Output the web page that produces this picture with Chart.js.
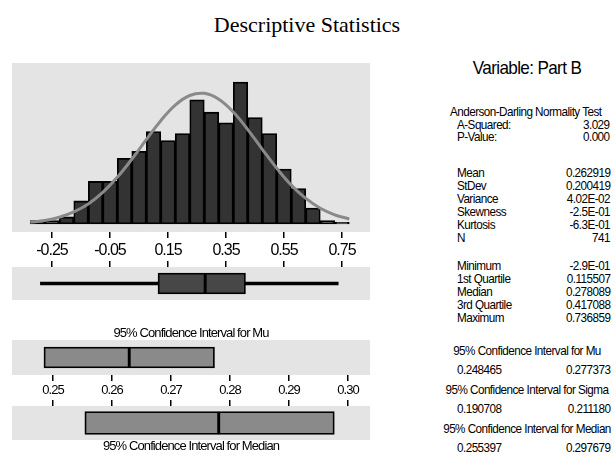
<!DOCTYPE html>
<html>
<head>
<meta charset="utf-8">
<script src="https://cdn.jsdelivr.net/npm/chart.js@4.4.1/dist/chart.umd.min.js"></script>
<style>
  body { margin: 0; background: #fff; }
  #wrap { position: relative; width: 614px; height: 460px; overflow: hidden; font-family: 'Liberation Sans', Arial, sans-serif; }
  canvas { position: absolute; left: 0; }
  .t { position: absolute; white-space: nowrap; line-height: 1; color: #000; font-size: 13px; letter-spacing: -0.6px; }
</style>
</head>
<body>
<div id="wrap">
  <canvas id="hist" width="380" height="203" style="top:55px"></canvas>
  <canvas id="box" width="380" height="41" style="top:259px"></canvas>
  <canvas id="mu" width="380" height="70" style="top:327px"></canvas>
  <canvas id="med" width="380" height="55" style="top:398px"></canvas>
</div>
<script>
// histogram bins (bin width 0.05)
const binCenters = [-0.30, -0.25, -0.20, -0.15, -0.10, -0.05, 0.00, 0.05, 0.10, 0.15, 0.20,
                    0.25, 0.30, 0.35, 0.40, 0.45, 0.50, 0.55, 0.60, 0.65, 0.70, 0.75];
const binCounts = [2, 2, 4, 13, 24, 24, 37, 41, 52, 47, 51, 70, 63, 57, 80, 60, 51, 31, 20, 9, 2, 1];

// fitted normal curve
const curveX = [-0.325, -0.275, -0.225, -0.175, -0.125, -0.075, -0.025, 0.025, 0.075, 0.125, 0.175, 0.225,
                0.275, 0.325, 0.375, 0.425, 0.475, 0.525, 0.575, 0.625, 0.675, 0.725, 0.775];
const curveY = [1.0, 2.0, 3.8, 6.8, 11.3, 17.8, 26.3, 36.5, 47.5, 58.2, 67.0, 72.4,
                73.6, 70.3, 63.1, 53.2, 42.1, 31.4, 21.9, 14.4, 8.9, 5.2, 2.8];

const histTicks = [-0.25, -0.05, 0.15, 0.35, 0.55, 0.75];
const ciTicks = [0.25, 0.26, 0.27, 0.28, 0.29, 0.30];

// min, q1, median, q3, max
const boxStats = [-0.29, 0.115507, 0.278089, 0.417088, 0.736859];
// lower, mean, upper
const muCI = [0.248465, 0.262919, 0.277373];
// lower, median, upper
const medianCI = [0.255397, 0.278089, 0.297679];

const statRows = [
  ['A-Squared:', '3.029', 124], ['P-Value:', '0.000', 136],
  ['Mean', '0.262919', 172], ['StDev', '0.200419', 185], ['Variance', '4.02E-02', 198],
  ['Skewness', '-2.5E-01', 211], ['Kurtosis', '-6.3E-01', 224], ['N', '741', 237],
  ['Minimum', '-2.9E-01', 265], ['1st Quartile', '0.115507', 278], ['Median', '0.278089', 291],
  ['3rd Quartile', '0.417088', 304], ['Maximum', '0.736859', 317]
];
const ciRows = [
  ['95% Confidence Interval for Mu', '0.248465', '0.277373', 350],
  ['95% Confidence Interval for Sigma', '0.190708', '0.211180', 389],
  ['95% Confidence Interval for Median', '0.255397', '0.297679', 428]
];

Chart.defaults.font.family = "'Liberation Sans', Arial, sans-serif";
Chart.defaults.color = '#000';
Chart.defaults.animation = false;
Chart.defaults.devicePixelRatio = 1;
Chart.defaults.plugins.legend.display = false;
Chart.defaults.plugins.tooltip.enabled = false;

function panelBg(spacing) {
  return {
    id: 'panelBg',
    beforeDraw(chart) {
      const a = chart.chartArea, c = chart.ctx;
      c.letterSpacing = spacing;
      c.save();
      c.fillStyle = '#e4e4e4';
      c.fillRect(a.left, a.top, a.right - a.left, a.bottom - a.top);
      c.restore();
    }
  };
}

function xAxis(min, max, ticks, opts) {
  return Object.assign({
    type: 'linear', min: min, max: max, offset: false,
    afterBuildTicks: s => { s.ticks = ticks.map(v => ({ value: v })); },
    grid: { offset: false, drawOnChartArea: false, tickLength: 6, color: '#000', lineWidth: 1.5 },
    border: { display: false },
    ticks: { display: false }
  }, opts);
}

// histogram with normal curve
new Chart(document.getElementById('hist'), {
  data: {
    datasets: [{
      type: 'line',
      data: curveX.map((x, i) => ({ x: x, y: curveY[i] })),
      borderColor: '#8a8a8a', borderWidth: 3, pointRadius: 0, tension: 0.4
    }, {
      type: 'bar',
      data: binCenters.map((x, i) => ({ x: x, y: binCounts[i] })),
      backgroundColor: '#333333', borderColor: '#000', borderWidth: 1.8, borderSkipped: false,
      barPercentage: 1, categoryPercentage: 1
    }]
  },
  options: {
    responsive: false,
    layout: { padding: { left: 12, right: 10, top: 8, bottom: 0 } },
    scales: {
      x: xAxis(-0.388, 0.8465, histTicks, {
        afterFit: s => { s.height = 26; },
        ticks: { display: true, padding: 3, font: { size: 16 }, maxRotation: 0, callback: v => v.toFixed(2) }
      }),
      y: { display: false, min: -4.5, max: 90.7 }
    }
  },
  plugins: [panelBg('-1px')]
});

function boxChart(id, range, ticks, box, whisker, fill, thickness, axisOpts, title) {
  const ds = [{
    data: [[box[0], box[1]]], backgroundColor: fill, borderColor: '#000', borderWidth: 1.8,
    borderSkipped: false, barThickness: thickness, grouped: false
  }, {
    data: [[box[1], box[2]]], backgroundColor: fill, borderColor: '#000', borderWidth: 1.8,
    borderSkipped: false, barThickness: thickness, grouped: false
  }];
  if (whisker) {
    ds.push({ data: [whisker], backgroundColor: '#000', borderWidth: 0, barThickness: 3, grouped: false });
  }
  return new Chart(document.getElementById(id), {
    type: 'bar',
    data: { labels: [''], datasets: ds },
    options: {
      responsive: false,
      indexAxis: 'y',
      layout: { padding: { left: 12, right: 10, top: 0, bottom: 0 } },
      plugins: { title: title },
      scales: {
        x: xAxis(range[0], range[1], ticks, axisOpts),
        y: { display: false }
      }
    },
    plugins: [panelBg('-0.9px')]
  });
}

const titleFont = { size: 13, weight: 'normal', lineHeight: 1 };

boxChart('box', [-0.388, 0.8465], histTicks,
  boxStats.slice(1, 4), [boxStats[0], boxStats[4]], '#474747', 21,
  { position: 'top', afterFit: s => { s.height = 8; } }, { display: false });

boxChart('mu', [0.24305, 0.30373], ciTicks,
  muCI, null, '#8a8a8a', 21,
  { position: 'bottom', afterFit: s => { s.height = 22; },
    ticks: { display: true, padding: 2, font: { size: 13 }, maxRotation: 0, callback: v => v.toFixed(2) } },
  { display: true, text: '95% Confidence Interval for Mu', font: titleFont, padding: 0, position: 'top' });

boxChart('med', [0.24305, 0.30373], ciTicks,
  medianCI, null, '#8a8a8a', 23,
  { position: 'top', afterFit: s => { s.height = 8; } },
  { display: true, text: '95% Confidence Interval for Median', font: titleFont, padding: 0, position: 'bottom' });

// text panel
const wrap = document.getElementById('wrap');
function addText(txt, x, y, align, css) {
  const d = document.createElement('div');
  d.className = 't';
  d.textContent = txt;
  d.style.top = y + 'px';
  if (align === 'left') {
    d.style.left = x + 'px';
    d.style.transformOrigin = 'left center';
    d.style.transform = 'translateY(-50%) scaleX(0.9)';
  } else if (align === 'right') {
    d.style.right = (614 - x) + 'px';
    d.style.transformOrigin = 'right center';
    d.style.transform = 'translateY(-50%) scaleX(0.9)';
  } else {
    d.style.left = x + 'px';
    d.style.transform = 'translate(-50%,-50%) scaleX(0.9)';
  }
  Object.assign(d.style, css || {});
  wrap.appendChild(d);
  return d;
}
addText('Descriptive Statistics', 307, 25, 'center', {
  fontFamily: "'Liberation Serif', 'Times New Roman', serif", fontSize: '22px', letterSpacing: '0',
  transform: 'translate(-50%,-50%)' });
addText('Variable: Part B', 527, 67, 'center', { fontSize: '19px', letterSpacing: '-0.7px' });
addText('Anderson-Darling Normality Test', 450, 111, 'left');
statRows.forEach(r => {
  addText(r[0], 457, r[2], 'left');
  addText(r[1], 610, r[2], 'right');
});
ciRows.forEach(r => {
  addText(r[0], 527, r[3], 'center');
  addText(r[1], 457, r[3] + 19, 'left');
  addText(r[2], 610, r[3] + 19, 'right');
});
</script>
</body>
</html>
